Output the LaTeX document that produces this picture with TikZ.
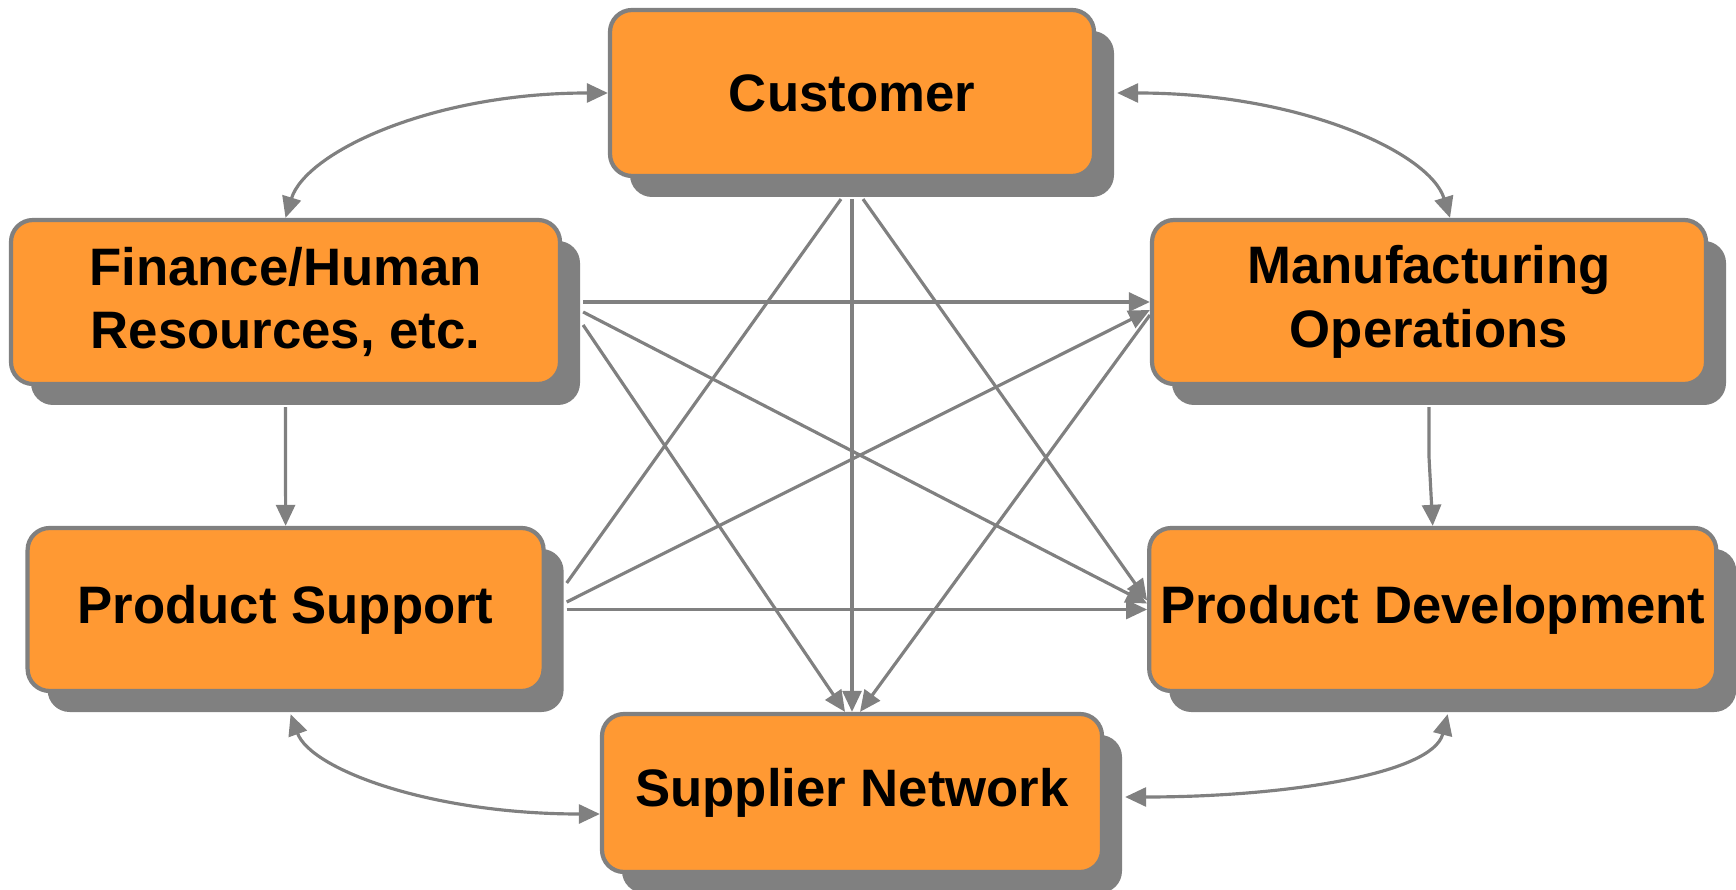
\documentclass[tikz,border=0pt]{standalone}
\usepackage{fontspec}
\setmainfont{Liberation Sans}
\usepackage{xcolor}
\usepackage{tikz}
\usetikzlibrary{arrows.meta, shadows}
\definecolor{boxorange}{HTML}{FF9933}

\begin{document}
\begin{tikzpicture}[
        >={Triangle[length=6pt, width=5.4pt]},
        % Style des boîtes orange
        block/.style={
            rectangle,
            draw=black!50,
            line width=1.2pt,
            fill=boxorange,
            rounded corners=0.22cm,
            align=center,
            inner sep=0pt,
            minimum height=1.64cm,
            font=\fontsize{15}{18}\selectfont\bfseries,
            drop shadow={shadow xshift=0.2cm, shadow yshift=-0.21cm, opacity=1, fill=black!50}
        },
        % Style des liens
        line/.style={
            draw=black!50,
            line width=0.9pt
        }
    ]
    \useasboundingbox (0,0) rectangle (17.36,-8.90);

    % --- BOÎTES ---
    \node [block, minimum width=4.84cm, minimum height=1.66cm] (customer) at (8.52,-0.93) {Customer};
    \node [block, minimum width=5.49cm] (finance) at (2.855,-3.02) {Finance/Human\\Resources, etc.};
    \node [block, minimum width=5.54cm] (manufacturing) at (14.29,-3.02) {Manufacturing\\Operations};
    \node [block, minimum width=5.16cm, minimum height=1.63cm] (support) at (2.856,-6.095) {Product Support};
    \node [block, minimum width=5.67cm, minimum height=1.63cm] (development) at (14.327,-6.095) {Product Development};
    \node [block, minimum width=5.00cm, minimum height=1.58cm] (supplier) at (8.52,-7.93) {Supplier Network};

    % --- LIENS COURBES ---
    \draw [line, <->] (customer.west) .. controls +(-1.78,0) and +(0.2,0.65) .. (finance.north);
    \draw [line, <->] ([xshift=0.21cm]customer.east) .. controls +(1.84,0) and +(-0.2,0.65) .. ([xshift=0.21cm]manufacturing.north);
    \draw [line, <->] ([shift={(0.05,-0.21)}]support.south) .. controls +(0.2,-0.55) and +(-1.7,0) .. ([yshift=-0.21cm]supplier.west);
    \draw [line, <->] ([shift={(0.21,-0.04)}]supplier.east) .. controls +(1.6,0) and +(-0.15,-0.6) .. ([shift={(0.15,-0.21)}]development.south);

    % --- LIENS VERTICAUX ---
    \draw [line, ->] ([yshift=-0.21cm]finance.south) -- (support.north);
    \draw [line, ->] ([yshift=-0.21cm]manufacturing.south) -- ++(0,-0.5) -- (development.north);

    % --- LIENS EN ÉTOILE ---
    \draw [line, ->] ([xshift=0.21cm]finance.east) -- (manufacturing.west);
    \draw [line, ->] ([shift={(0.21,-0.10)}]finance.east) -- ([yshift=0.06cm]development.west);
    \draw [line, ->] ([shift={(0.21,-0.23)}]finance.east) -- ([xshift=-0.07cm]supplier.north);
    \draw [line] ([shift={(-0.11,-0.21)}]customer.south) -- ([shift={(0.21,0.265)}]support.east);
    \draw [line, ->] ([yshift=-0.21cm]customer.south) -- (supplier.north);
    \draw [line, ->] ([shift={(0.11,-0.21)}]customer.south) -- ([yshift=0.09cm]development.west);
    \draw [line, ->] ([shift={(0.21,0.075)}]support.east) -- ([yshift=-0.08cm]manufacturing.west);
    \draw [line, ->] ([xshift=0.21cm]support.east) -- (development.west);
    \draw [line, ->] ([yshift=-0.13cm]manufacturing.west) -- ([xshift=0.08cm]supplier.north);

\end{tikzpicture}
\end{document}
